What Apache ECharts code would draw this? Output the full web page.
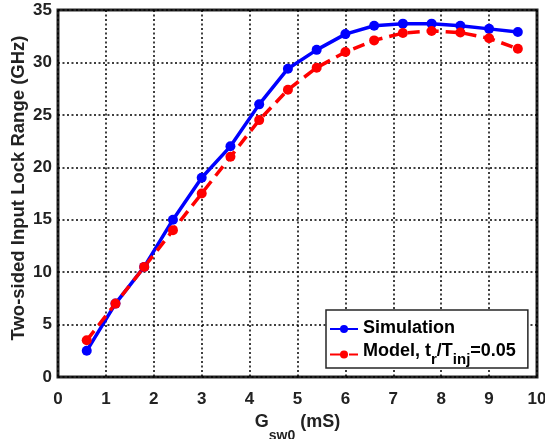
<!DOCTYPE html>
<html>
<head>
<meta charset="UTF-8" />
<style>
  * { margin: 0; padding: 0; }
  #main { width: 545px; height: 439px; background: #fff; }
</style>
</head>
<body>
<div id="main"></div>
<script src="https://cdn.jsdelivr.net/npm/echarts@6/dist/echarts.min.js"></script>
<script>
  const chart = echarts.init(document.getElementById("main"));

  // G_sw0 (mS)
  const gsw = [0.6, 1.2, 1.8, 2.4, 3.0, 3.6, 4.2, 4.8, 5.4, 6.0, 6.6, 7.2, 7.8, 8.4, 9.0, 9.6];
  // lock range (GHz)
  const simulation = [2.5, 7.0, 10.5, 15.0, 19.0, 22.0, 26.0, 29.4, 31.2, 32.7, 33.5, 33.7, 33.7, 33.5, 33.2, 32.9];
  const model = [3.5, 7.0, 10.5, 14.0, 17.5, 21.0, 24.5, 27.4, 29.5, 31.0, 32.1, 32.8, 33.0, 32.85, 32.3, 31.3];
  const yTitle = "Two-sided Input Lock Range (GHz)";

  const pairs = (ys) => gsw.map((x, i) => [x, ys[i]]);
  const font = "Liberation Sans";
  const ink = "#222";

  chart.setOption({
    animation: false,
    grid: {
      left: 58, right: 8, top: 10, bottom: 62,
      outerBoundsMode: "none",
      show: true, borderColor: "#262626", borderWidth: 3, backgroundColor: "#fff"
    },
    // y title drawn by hand so it sits where the reference has it
    graphic: [{
      type: "text", x: 19, y: 188, rotation: Math.PI / 2,
      style: {
        text: yTitle, fill: ink, align: "center", verticalAlign: "middle",
        font: "bold 18.5px 'Liberation Sans'"
      }
    }],
    xAxis: {
      type: "value", min: 0, max: 10, interval: 1,
      name: "{a|G}{s|sw0}{a| (mS)}",
      nameLocation: "middle", nameGap: 26,
      nameTextStyle: {
        rich: {
          a: { fontFamily: font, fontWeight: "bold", fontSize: 18, color: ink, lineHeight: 20, verticalAlign: "top" },
          s: { fontFamily: font, fontWeight: "bold", fontSize: 14, color: ink, lineHeight: 30, verticalAlign: "bottom" }
        }
      },
      axisLine: { show: false },
      axisTick: { show: false },
      axisLabel: { fontFamily: font, fontWeight: "bold", fontSize: 17, color: ink, margin: 14 },
      splitLine: { show: true, lineStyle: { color: "#000", width: 1.5, type: [2, 2.5] } }
    },
    yAxis: {
      type: "value", min: 0, max: 35, interval: 5,
      axisLine: { show: false },
      axisTick: { show: false },
      axisLabel: { fontFamily: font, fontWeight: "bold", fontSize: 17, color: ink, margin: 6 },
      splitLine: { show: true, lineStyle: { color: "#000", width: 1.5, type: [2, 2.5] } }
    },
    legend: {
      left: 326, top: 310, orient: "vertical",
      backgroundColor: "#fff", borderColor: "#262626", borderWidth: 1.5, borderRadius: 0,
      padding: [9, 12, 1, 3], itemGap: 5, itemWidth: 28, itemHeight: 10,
      textStyle: {
        fontFamily: font, fontWeight: "bold", fontSize: 18, color: "#000",
        rich: {
          a: { fontFamily: font, fontWeight: "bold", fontSize: 18, color: "#000", lineHeight: 20, verticalAlign: "top" },
          s: { fontFamily: font, fontWeight: "bold", fontSize: 15, color: "#000", lineHeight: 25, verticalAlign: "bottom" }
        }
      },
      formatter: (name) => name === "Model"
        ? "{a|Model, t}{s|r}{a|/T}{s|inj}{a|=0.05}"
        : "{a|" + name + "}",
      data: ["Simulation", "Model"]
    },
    series: [
      {
        name: "Simulation", type: "line", data: pairs(simulation),
        symbol: "circle", symbolSize: 10,
        lineStyle: { color: "#0000ff", width: 3.5 },
        itemStyle: { color: "#0000ff" }
      },
      {
        name: "Model", type: "line", data: pairs(model),
        symbol: "circle", symbolSize: 10,
        lineStyle: { color: "#ff0000", width: 3.5, type: [12, 7] },
        itemStyle: { color: "#ff0000" }
      }
    ]
  });
</script>
</body>
</html>
